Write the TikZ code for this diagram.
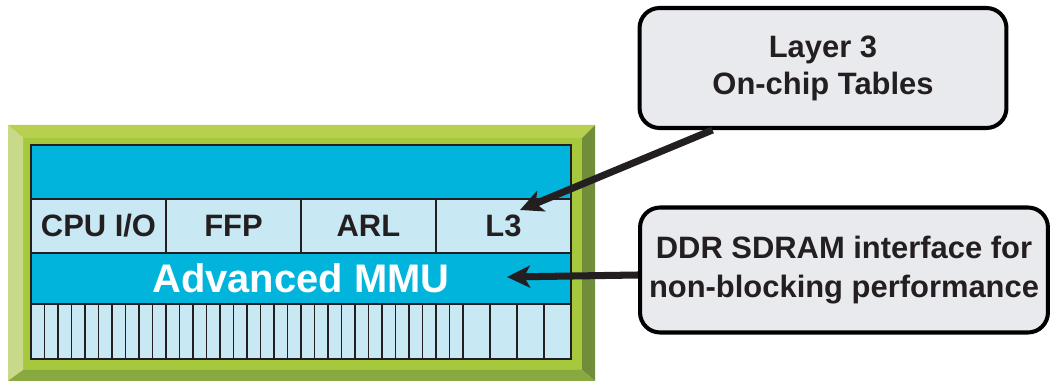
\documentclass[tikz,border=0pt]{standalone}
\usepackage{fontspec}
\setmainfont{Liberation Sans}
\usetikzlibrary{arrows.meta}
\usetikzlibrary{positioning}

\definecolor{chipface}{RGB}{166,200,60}
\definecolor{chiptop}{RGB}{184,208,80}
\definecolor{chipleft}{RGB}{200,218,138}
\definecolor{chipright}{RGB}{112,142,58}
\definecolor{chipbottom}{RGB}{136,168,64}
\definecolor{dblue}{RGB}{0,180,220}
\definecolor{lblue}{RGB}{200,232,244}
\definecolor{calloutgray}{RGB}{233,234,238}
\definecolor{ink}{RGB}{35,31,32}

\begin{document}
\begin{tikzpicture}[x=0.02cm,y=-0.02cm]
				\tikzstyle{cell}=[draw=ink,line width=1.1pt,fill=lblue,inner sep=0pt,outer sep=0pt,minimum width=2.7cm,minimum height=1.08cm,text=ink,font=\fontsize{17.6}{21}\bfseries]
				\tikzstyle{band}=[draw=ink,line width=1.1pt,fill=dblue,inner sep=0pt,outer sep=0pt,minimum width=10.8cm]
				\tikzstyle{stripe}=[draw=ink,line width=0.9pt,fill=lblue]
				\tikzstyle{callout}=[draw=black,line width=2.3pt,fill=calloutgray,rounded corners=0.4cm,inner sep=0pt,align=center,text=ink]
				\tikzstyle{pointer}=[draw=ink,line width=4pt,-{Stealth[length=0.46cm,width=0.44cm,inset=0.12cm]}]
				\useasboundingbox (0,0) rectangle (1052,381);
				% chip with bevelled edge
				\fill[chipface] (23,138) rectangle (582,370);
				\fill[chiptop] (8,125) -- (595,125) -- (582,138) -- (23,138) -- cycle;
				\fill[chipleft] (8,125) -- (23,138) -- (23,370) -- (8,381) -- cycle;
				\fill[chipright] (595,125) -- (595,381) -- (582,370) -- (582,138) -- cycle;
				\fill[chipbottom] (8,381) -- (595,381) -- (582,370) -- (23,370) -- cycle;
				% rows of the chip
				\node[band,anchor=north west,minimum height=1.08cm] (toprow) at (31,145) {};
				\node[cell,anchor=north west] (cpu) at (31,199) {CPU I/O};
				\node[cell,right=0pt of cpu] (ffp) {FFP};
				\node[cell,right=0pt of ffp] (arl) {ARL};
				\node[cell,right=0pt of arl] (l3) {L3};
				\node[band,anchor=north west,minimum height=1.02cm,text=white,font=\fontsize{22.7}{26}\bfseries] (mmu) at (31,253) {Advanced MMU};
				\foreach \i in {0,...,31}
					\draw[stripe] (31+13.5*\i,304) rectangle ++(13.5,55);
				\foreach \i in {0,...,3}
					\draw[stripe] (463+27*\i,304) rectangle ++(27,55);
				\draw[ink,line width=1.4pt] (31,145) rectangle (571,359);
				% callouts
				\node[callout,minimum width=7.34cm,minimum height=2.4cm,font=\fontsize{17.6}{21}\bfseries] (tables) at (823,68) {Layer 3\\On-chip Tables};
				\node[callout,minimum width=8.16cm,minimum height=2.5cm,font=\fontsize{17.6}{22.5}\bfseries] (ddr) at (844,270) {DDR SDRAM interface for\\non-blocking performance};
				\coordinate (l3tip) at (520,210);
				\coordinate (mmutip) at (507,277);
				\draw[pointer] ([xshift=1.5cm]tables.south west) -- (l3tip);
				\draw[pointer] ([yshift=-0.1cm]ddr.west) -- (mmutip);
\end{tikzpicture}
\end{document}
